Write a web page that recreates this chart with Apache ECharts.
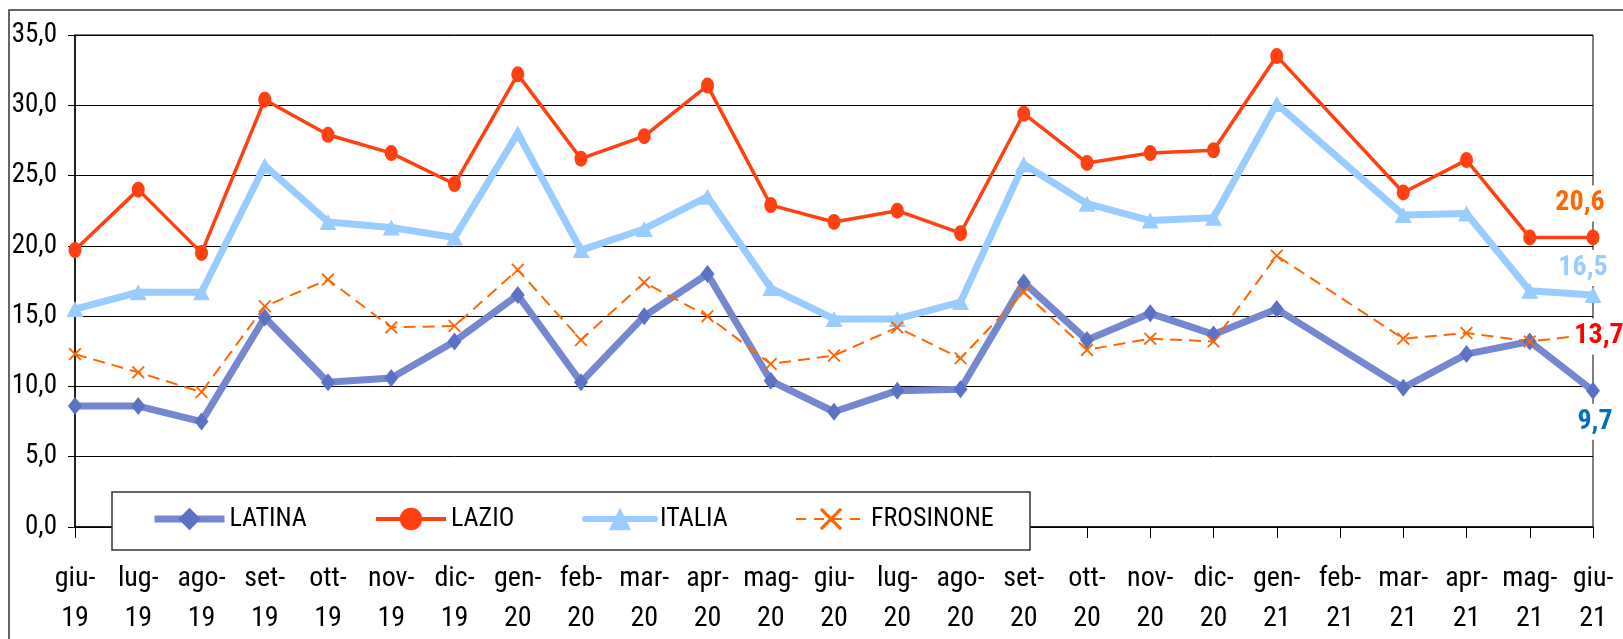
<!DOCTYPE html>
<html><head><meta charset="utf-8">
<script src="https://cdn.jsdelivr.net/npm/echarts@6/dist/echarts.min.js"></script>
<style>html,body{margin:0;padding:0;background:#fff}#c{width:1623px;height:639px}</style>
</head><body><div id="c"></div>
<script>
const categories = ['giu-19','lug-19','ago-19','set-19','ott-19','nov-19','dic-19','gen-20','feb-20','mar-20','apr-20','mag-20','giu-20','lug-20','ago-20','set-20','ott-20','nov-20','dic-20','gen-21','feb-21','mar-21','apr-21','mag-21','giu-21'];
const latina = [8.6,8.6,7.5,14.9,10.3,10.6,13.2,16.5,10.3,15.0,18.0,10.4,8.2,9.7,9.8,17.4,13.3,15.2,13.7,15.5,null,9.9,12.3,13.2,9.7];
const lazio = [19.7,24.0,19.5,30.4,27.9,26.6,24.4,32.2,26.2,27.8,31.4,22.9,21.7,22.5,20.9,29.4,25.9,26.6,26.8,33.5,null,23.8,26.1,20.6,20.6];
const italia = [15.5,16.7,16.7,25.7,21.7,21.3,20.6,28.0,19.7,21.2,23.5,17.0,14.8,14.8,16.0,25.8,23.0,21.8,22.0,30.1,null,22.2,22.3,16.8,16.5];
const frosinone = [12.3,11.0,9.6,15.7,17.6,14.2,14.3,18.3,13.3,17.4,15.0,11.6,12.2,14.2,12.0,16.7,12.6,13.4,13.2,19.3,null,13.4,13.8,13.2,13.7];

const FONT = "'Roboto Condensed','Liberation Sans Narrow',sans-serif";
const fmt = v => v.toFixed(1).replace('.', ',');
function withLastLabel(arr, color, offset) {
  return arr.map((v, i) => i === arr.length - 1 ? {
    value: v,
    label: {show: true, position: 'inside', offset: offset, formatter: p => fmt(p.value),
      color: color, fontFamily: FONT, fontWeight: 'bold', fontSize: 28,
      backgroundColor: '#fff', padding: [4, 2]}
  } : v);
}
const xPath = 'path://M0,1 L1,0 L5,4 L9,0 L10,1 L6,5 L10,9 L9,10 L5,6 L1,10 L0,9 L4,5 Z';

const chart = echarts.init(document.getElementById('c'));
const legendBase = {top: 506, padding: 0, itemWidth: 70, itemHeight: 28, itemGap: 0, z: 20,
  textStyle: {fontFamily: FONT, fontSize: 26, color: '#000'}, selectedMode: false};
chart.setOption({
  backgroundColor: '#fff',
  animation: false,
  grid: {left: 75, top: 35, right: 30, bottom: 111, show: true, borderColor: '#000', borderWidth: 1},
  xAxis: {
    type: 'category', data: categories, boundaryGap: false,
    axisLine: {lineStyle: {color: '#000', width: 1.5}},
    axisTick: {show: true, length: 11, lineStyle: {color: '#000'}},
    axisLabel: {interval: 0, margin: 32, fontFamily: FONT, fontSize: 28, lineHeight: 40, color: '#000',
      formatter: v => v.replace('-', '-\n')}
  },
  yAxis: {
    type: 'value', min: 0, max: 35, interval: 5,
    axisLine: {show: true, lineStyle: {color: '#000', width: 1.5}},
    axisTick: {show: true, length: 7, lineStyle: {color: '#000'}},
    splitLine: {lineStyle: {color: '#000', width: 1}},
    axisLabel: {margin: 18, fontFamily: FONT, fontSize: 27, color: '#000', formatter: v => fmt(v)}
  },
  legend: [
    Object.assign({left: 151, data: ['LATINA'], lineStyle: {width: 7}}, legendBase),
    Object.assign({left: 374, data: ['LAZIO'], lineStyle: {width: 4}}, legendBase),
    Object.assign({left: 582, data: ['ITALIA'], lineStyle: {width: 6, cap: 'round'}}, legendBase),
    Object.assign({left: 795, data: ['FROSINONE'], lineStyle: {width: 2, type: [10, 8]}}, legendBase)
  ],
  graphic: [
    {type: 'rect', silent: true, z: 0, shape: {x: 9, y: 10, width: 1700, height: 700},
      style: {fill: 'none', stroke: '#333', lineWidth: 1.5}},
    {type: 'rect', silent: true, z: 10, shape: {x: 112, y: 492, width: 918, height: 58},
      style: {fill: '#fff', stroke: '#333', lineWidth: 1.5}}
  ],
  series: [
    {name: 'LATINA', type: 'line', connectNulls: true, data: withLastLabel(latina, '#0070C0', [2, 31]),
      symbol: 'diamond', symbolSize: [14, 18], itemStyle: {color: '#5B72C4'},
      lineStyle: {color: '#7587CF', width: 7}},
    {name: 'LAZIO', type: 'line', connectNulls: true, data: withLastLabel(lazio, '#FF6600', [-13, -34]),
      symbol: 'circle', symbolSize: [13, 16], itemStyle: {color: '#FF4010'},
      lineStyle: {color: '#FF4010', width: 3.5}},
    {name: 'ITALIA', type: 'line', connectNulls: true, data: withLastLabel(italia, '#99CCFF', [-10, -27]),
      symbol: 'triangle', symbolSize: [17, 16], itemStyle: {color: '#99CCFF'},
      lineStyle: {color: '#99CCFF', width: 7}},
    {name: 'FROSINONE', type: 'line', connectNulls: true, data: withLastLabel(frosinone, '#FF0000', [6, 2]),
      symbol: xPath, symbolSize: 13, itemStyle: {color: '#FF6600'},
      lineStyle: {color: '#FF6600', width: 2, type: [12, 7]}}
  ]
});
</script></body></html>
